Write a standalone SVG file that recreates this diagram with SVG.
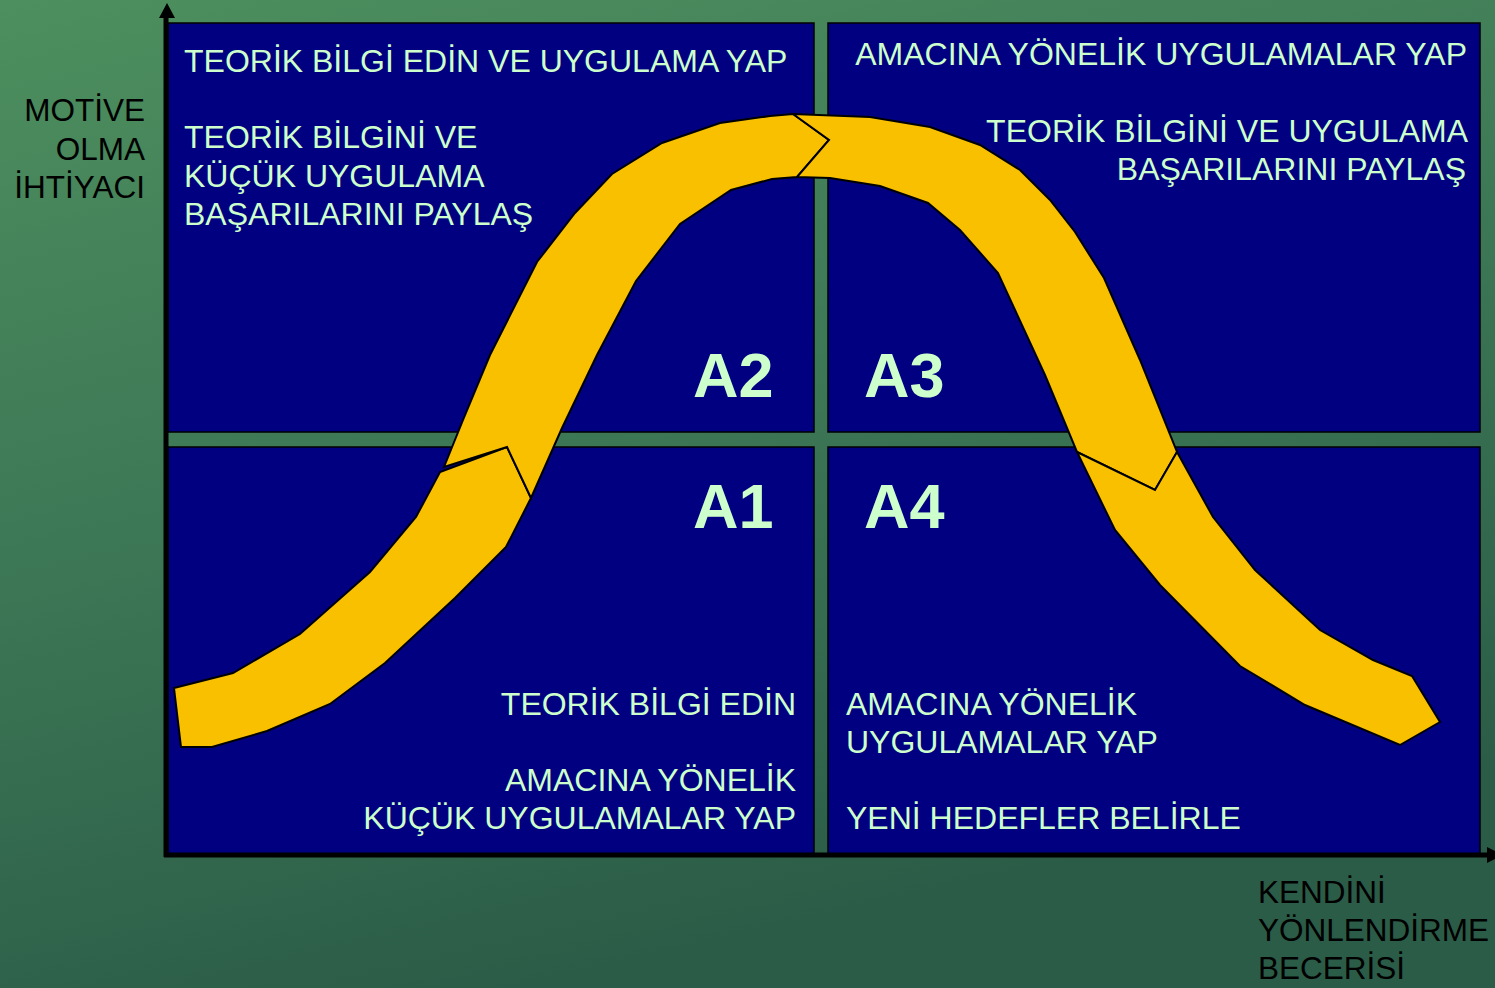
<svg xmlns="http://www.w3.org/2000/svg" width="1495" height="988" viewBox="0 0 1495 988">
  <defs>
    <linearGradient id="bg" x1="0" y1="0" x2="0.35" y2="1">
      <stop offset="0" stop-color="#4d8f5e"/>
      <stop offset="0.5" stop-color="#3d7856"/>
      <stop offset="1" stop-color="#2b5c47"/>
    </linearGradient>
    <style>
      .quad { fill: #000080; stroke: #000000; stroke-width: 1.5; }
      .txt { font-family: "Liberation Sans", Arial, sans-serif; font-size: 32px; fill: #CCFFCC; }
      .big { font-family: "Liberation Sans", Arial, sans-serif; font-size: 63px; font-weight: bold; fill: #CCFFCC; }
      .lbl { font-family: "Liberation Sans", Arial, sans-serif; font-size: 31.5px; fill: #000000; }
      .seg { fill: #F9C000; stroke: #000000; stroke-width: 2; stroke-linejoin: miter; }
      .axis { stroke: #000000; stroke-width: 5; fill: none; }
    </style>
  </defs>

  <rect x="0" y="0" width="1495" height="988" fill="url(#bg)"/>

  <g id="quadrant-A2">
    <rect class="quad" x="168" y="23" width="646" height="409"/>
    <text class="txt" x="184" y="72">TEORİK BİLGİ EDİN VE UYGULAMA YAP</text>
    <text class="txt" x="184" y="148">TEORİK BİLGİNİ VE</text>
    <text class="txt" x="184" y="187">KÜÇÜK UYGULAMA</text>
    <text class="txt" x="184" y="225">BAŞARILARINI PAYLAŞ</text>
    <text class="big" x="693" y="397">A2</text>
  </g>

  <g id="quadrant-A3">
    <rect class="quad" x="828" y="23" width="652" height="409"/>
    <text class="txt" x="1467" y="65" text-anchor="end">AMACINA YÖNELİK UYGULAMALAR YAP</text>
    <text class="txt" x="1468" y="142" text-anchor="end">TEORİK BİLGİNİ VE UYGULAMA</text>
    <text class="txt" x="1466" y="180" text-anchor="end">BAŞARILARINI PAYLAŞ</text>
    <text class="big" x="864" y="397">A3</text>
  </g>

  <g id="quadrant-A1">
    <rect class="quad" x="168" y="447" width="646" height="407"/>
    <text class="txt" x="796" y="715" text-anchor="end">TEORİK BİLGİ EDİN</text>
    <text class="txt" x="796" y="791" text-anchor="end">AMACINA YÖNELİK</text>
    <text class="txt" x="796" y="829" text-anchor="end">KÜÇÜK UYGULAMALAR YAP</text>
    <text class="big" x="693" y="528">A1</text>
  </g>

  <g id="quadrant-A4">
    <rect class="quad" x="828" y="447" width="652" height="407"/>
    <text class="txt" x="846" y="715">AMACINA YÖNELİK</text>
    <text class="txt" x="846" y="753">UYGULAMALAR YAP</text>
    <text class="txt" x="846" y="829">YENİ HEDEFLER BELİRLE</text>
    <text class="big" x="864" y="528">A4</text>
  </g>

  <g id="axes">
    <line class="axis" x1="166" y1="14" x2="166" y2="857"/>
    <polygon points="167,3 159,18 175,18" fill="#000000"/>
    <line class="axis" x1="164" y1="855" x2="1490" y2="855"/>
    <polygon points="1487,847 1503,855 1487,863" fill="#000000"/>
  </g>

  <g id="connectors">
    <polygon class="seg" points="174,688 233,673 300,634 370,572 416,517 440,472 507,447 531,498 506,547 455,598 385,663 330,704 267,731 212,747 181,747"/>
    <polygon class="seg" points="444,467 463,420 490,355 537,262 575,213 612,174 662,143 720,123 770,116 793,114 829,140 797,177 772,179 731,190 680,224 636,281 597,355 562,428 531,498 507,447"/>
    <polygon class="seg" points="793,114 870,117 930,127 980,145 1020,170 1050,200 1075,232 1104,278 1140,360 1177,452 1155,490 1077,452 1045,375 998,273 960,230 928,203 880,186 830,178 797,177 829,140"/>
    <polygon class="seg" points="1077,452 1155,490 1177,452 1213,517 1255,570 1320,630 1373,660 1412,676 1440,722 1400,745 1305,705 1240,666 1160,585 1115,530"/>
  </g>

  <g id="axis-labels">
    <text class="lbl" x="145" y="121" text-anchor="end">MOTİVE</text>
    <text class="lbl" x="145" y="160" text-anchor="end">OLMA</text>
    <text class="lbl" x="145" y="198" text-anchor="end">İHTİYACI</text>
    <text class="lbl" x="1258" y="903">KENDİNİ</text>
    <text class="lbl" x="1258" y="941">YÖNLENDİRME</text>
    <text class="lbl" x="1258" y="979">BECERİSİ</text>
  </g>
</svg>
